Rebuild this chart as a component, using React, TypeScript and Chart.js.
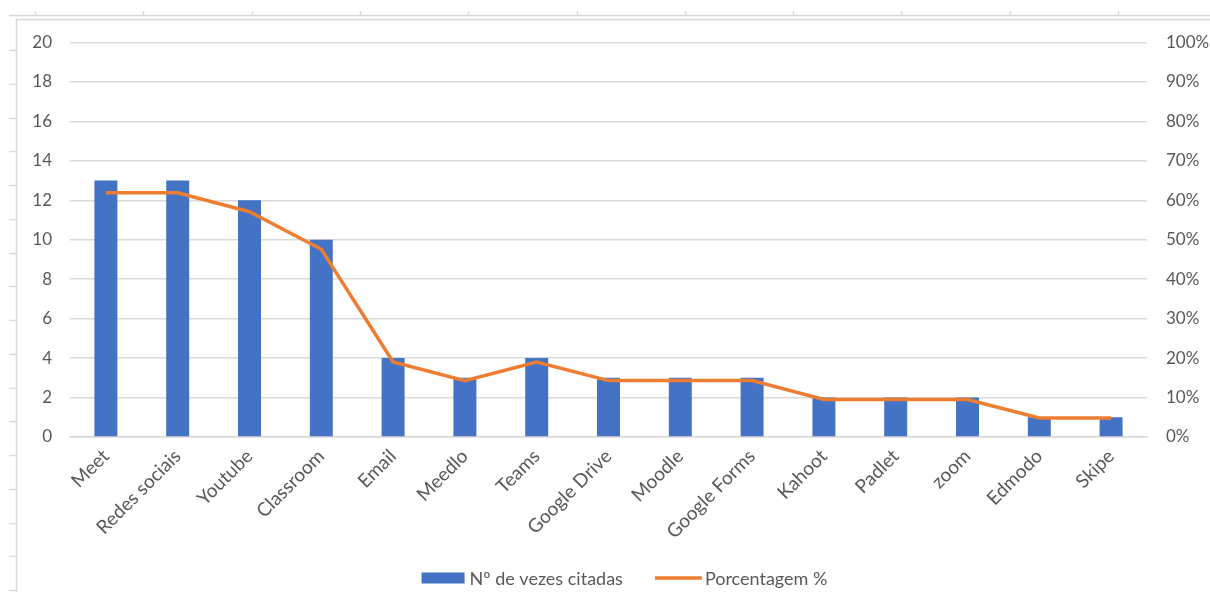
import React, { useEffect, useRef } from "react";
import { Chart, registerables } from "chart.js";

Chart.register(...registerables);

const categories = [
  "Meet", "Redes sociais", "Youtube", "Classroom", "Email", "Meedlo", "Teams",
  "Google Drive", "Moodle", "Google Forms", "Kahoot", "Padlet", "zoom", "Edmodo", "Skipe",
];
const citedCounts = [13, 13, 12, 10, 4, 3, 4, 3, 3, 3, 2, 2, 2, 1, 1];
const percentages = [61.9, 61.9, 57.1, 47.6, 19.0, 14.3, 19.0, 14.3, 14.3, 14.3, 9.5, 9.5, 9.5, 4.8, 4.8];
const leftTicks = [0, 2, 4, 6, 8, 10, 12, 14, 16, 18, 20];
const rightTicks = [0, 10, 20, 30, 40, 50, 60, 70, 80, 90, 100];

const FONT = "Lato, 'Open Sans', sans-serif";
const TEXT = "#595959";
const GRID = "#D9D9D9";
const BLUE = "#4472C4";
const ORANGE = "#ED7D31";

const sheetLines = {
  id: "sheetLines",
  beforeDraw(chart: any) {
    const ctx = chart.ctx as CanvasRenderingContext2D;
    ctx.save();
    ctx.fillStyle = "#ffffff";
    ctx.fillRect(0, 0, chart.width, chart.height);
    ctx.strokeStyle = "#DADADA";
    ctx.lineWidth = 1.5;
    ctx.beginPath();
    ctx.moveTo(9, 15.5);
    ctx.lineTo(chart.width, 15.5);
    for (let x = 35; x < chart.width; x += 108.3) {
      ctx.moveTo(Math.round(x) + 0.5, 11);
      ctx.lineTo(Math.round(x) + 0.5, 15.5);
    }
    for (let y = 50; y < chart.height; y += 33.75) {
      ctx.moveTo(9, Math.round(y) + 0.5);
      ctx.lineTo(16.5, Math.round(y) + 0.5);
    }
    ctx.stroke();
    ctx.beginPath();
    ctx.moveTo(16.5, chart.height);
    ctx.lineTo(16.5, 19.5);
    ctx.lineTo(chart.width, 19.5);
    ctx.stroke();
    ctx.restore();
  },
};

// Excel-like legend drawn under the axis labels
const excelLegend = {
  id: "excelLegend",
  afterDraw(chart: any) {
    const ctx = chart.ctx as CanvasRenderingContext2D;
    const ds = chart.data.datasets;
    const bar = ds.find((d: any) => d.type === "bar");
    const line = ds.find((d: any) => d.type === "line");
    ctx.save();
    ctx.font = `18px ${FONT}`;
    ctx.textBaseline = "middle";
    ctx.fillStyle = TEXT;
    const w1 = ctx.measureText(bar.label).width;
    const w2 = ctx.measureText(line.label).width;
    const total = 43 + 5 + w1 + 32 + 47 + 3 + w2;
    const cy = 578;
    let x = 624.5 - total / 2;
    ctx.fillStyle = bar.backgroundColor;
    ctx.fillRect(x, cy - 5.5, 43, 11);
    x += 48;
    ctx.fillStyle = TEXT;
    ctx.fillText(bar.label, x, cy + 1);
    x += w1 + 32;
    ctx.strokeStyle = line.borderColor;
    ctx.lineWidth = 3.5;
    ctx.beginPath();
    ctx.moveTo(x, cy);
    ctx.lineTo(x + 47, cy);
    ctx.stroke();
    x += 50;
    ctx.fillText(line.label, x, cy + 1);
    ctx.restore();
  },
};

export default function App() {
  const ref = useRef<HTMLCanvasElement | null>(null);

  useEffect(() => {
    if (!ref.current) return;
    const chart = new Chart(ref.current, {
      type: "bar",
      data: {
        labels: categories,
        datasets: [
          {
            type: "line",
            label: "Porcentagem %",
            data: percentages,
            yAxisID: "y1",
            borderColor: ORANGE,
            backgroundColor: ORANGE,
            borderWidth: 3.5,
            pointRadius: 0,
            tension: 0,
            order: 0,
          } as any,
          {
            type: "bar",
            label: "Nº de vezes citadas",
            data: citedCounts,
            yAxisID: "y",
            backgroundColor: BLUE,
            borderWidth: 0,
            barPercentage: 0.64,
            categoryPercentage: 0.5,
            order: 1,
          } as any,
        ],
      },
      options: {
        responsive: false,
        animation: false,
        maintainAspectRatio: false,
        layout: { padding: { left: 17, right: 0, top: 42.5, bottom: 28 } },
        plugins: {
          tooltip: { enabled: false },
          legend: { display: false },
        },
        scales: {
          x: {
            grid: { display: false, drawTicks: false },
            border: { display: true, color: GRID, width: 1.5 },
            ticks: {
              color: TEXT,
              font: { family: FONT, size: 19 },
              maxRotation: 45,
              minRotation: 45,
              autoSkip: false,
              padding: 8,
            },
            afterFit: (s: any) => { s.height = 127; },
          },
          y: {
            position: "left",
            min: 0,
            max: 20,
            afterBuildTicks: (s: any) => { s.ticks = leftTicks.map((v) => ({ value: v })); },
            grid: { color: GRID, lineWidth: 1.5, drawTicks: false },
            border: { display: false },
            ticks: {
              color: TEXT,
              font: { family: FONT, size: 17 },
              padding: 18,
            },
            afterFit: (s: any) => { s.width = 53; },
          },
          y1: {
            position: "right",
            min: 0,
            max: 100,
            afterBuildTicks: (s: any) => { s.ticks = rightTicks.map((v) => ({ value: v })); },
            grid: { display: false, drawTicks: false },
            border: { display: false },
            ticks: {
              color: TEXT,
              font: { family: FONT, size: 17 },
              padding: 19,
              callback: (v: any) => `${v}%`,
            },
            afterFit: (s: any) => { s.width = 63; },
          },
        },
      },
      plugins: [sheetLines, excelLegend],
    });
    return () => chart.destroy();
  }, []);

  return (
    <div style={{ position: "fixed", left: 0, top: 0, width: 1210, height: 592, background: "#fff" }}>
      <canvas ref={ref} width={1210} height={592} style={{ width: 1210, height: 592, display: "block" }} />
    </div>
  );
}
